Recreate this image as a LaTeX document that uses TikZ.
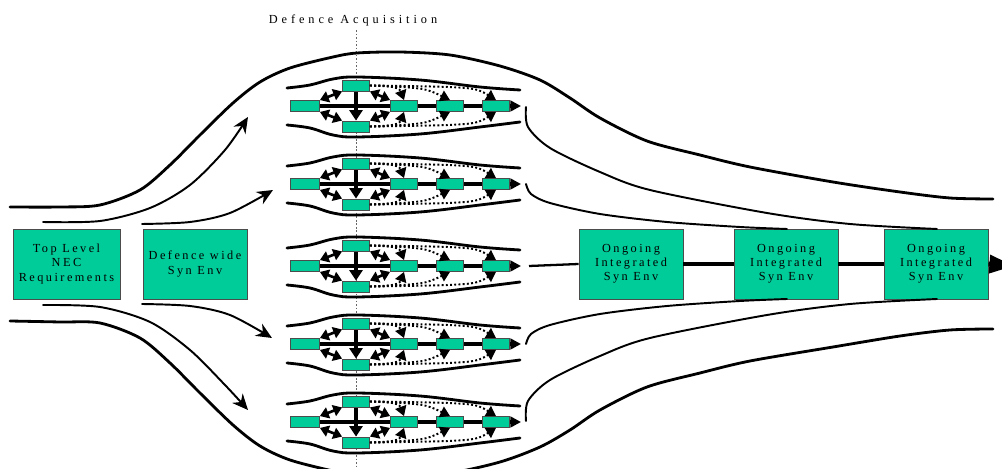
\documentclass[tikz,border=0pt]{standalone}
\usepackage{fontspec}
\setmainfont{Liberation Serif}
\newfontfamily\spc[LetterSpace=20]{Liberation Serif}
\newfontfamily\spct[LetterSpace=32]{Liberation Serif}
\usetikzlibrary{arrows.meta}
\pgfdeclarelayer{bg}
\pgfsetlayers{bg,main}
\definecolor{boxgreen}{RGB}{0,204,153}
\begin{document}
\begin{tikzpicture}[x=0.02cm,y=-0.02cm,
  box/.style={draw=black!70, fill=boxgreen, line width=0.5pt, inner sep=0pt},
  sbox/.style={box, minimum width=0.54cm, minimum height=0.22cm},
  bigbox/.style={box, minimum width=2.08cm, minimum height=1.4cm, align=center,
     font=\spc\fontsize{7}{8}\selectfont},
  env/.style={line width=1.6pt, line cap=round},
  flow/.style={line width=1.1pt, line cap=round},
  mainln/.style={line width=2.2pt},
  dots/.style={line width=1.1pt, dash pattern=on 1.1pt off 1.3pt},
  tri/.style={-{Triangle[length=5.5pt,width=6.5pt]}},
  dtri/.style={{Triangle[length=5pt,width=6.5pt]}-{Triangle[length=5pt,width=6.5pt]}}
]
\clip (0,0) rectangle (1002,469);

% title and dotted guide line
\node[font=\spct\fontsize{7}{8}\selectfont] (title) at (353,20) {Defence Acquisition};
\coordinate (vt) at (356,30);
\coordinate (vb) at (356,469);
\begin{pgfonlayer}{bg}
\draw[black!60, line width=0.4pt, dash pattern=on 1pt off 1pt] (vt) -- (vb);
\end{pgfonlayer}

% left boxes
\node[bigbox, minimum width=2.14cm] (nec) at (66.5,264) {Top Level\\NEC\\Requirements};
\node[bigbox] (dw) at (195,264) {Defence wide\\Syn Env};

% ongoing boxes
\node[bigbox] (oa) at (631,264) {Ongoing\\Integrated\\Syn Env};
\node[bigbox] (ob) at (786,264) {Ongoing\\Integrated\\Syn Env};
\node[bigbox] (oc) at (936,264) {Ongoing\\Integrated\\Syn Env};

% modules
\foreach \yy [count=\i] in {106,184,266,344,422}{
\begin{scope}[shift={(0,\yy)}]
  \node[sbox, minimum width=0.58cm] (L\i) at (305,0) {};
  \node[sbox] (T\i) at (356,-20.5) {};
  \node[sbox] (B\i) at (356,20.5) {};
  \node[sbox] (P\i) at (404,0) {};
  \node[sbox] (Q\i) at (450,0) {};
  \node[sbox] (R\i) at (496,0) {};
  \coordinate (E\i) at (521,0);
  \begin{pgfonlayer}{bg}
    \draw[mainln, -{Triangle[length=6pt,width=6pt]}] (L\i.east) -- (E\i);
    \draw[line width=2pt, -{Triangle[length=6pt,width=7.5pt]}] (T\i.south) -- (B\i.north);
    \draw[line width=1.5pt, dtri] (L\i.north east) -- (T\i.south west);
    \draw[line width=1.5pt, dtri] (L\i.south east) -- (B\i.north west);
    \draw[line width=1.5pt, dtri] (T\i.south east) -- (P\i.north west);
    \draw[line width=1.5pt, dtri] (B\i.north east) -- (P\i.south west);
  \end{pgfonlayer}
  \draw[dots, tri] (T\i.east) to[out=0,in=110] (P\i.north);
  \draw[dots, tri] (T\i.east) .. controls (425,-18) .. (Q\i.north);
  \draw[dots, tri] (T\i.east) .. controls (475,-19) .. (R\i.north);
  \draw[dots, tri] (B\i.east) to[out=0,in=-110] (P\i.south);
  \draw[dots, tri] (B\i.east) .. controls (425,18) .. (Q\i.south);
  \draw[dots, tri] (B\i.east) .. controls (475,19) .. (R\i.south);
  \draw[env] plot[smooth, tension=0.6] coordinates {(287,-18) (310,-21) (333,-27) (357,-29) (420,-26) (480,-19) (520,-16)};
  \draw[env] plot[smooth, tension=0.6] coordinates {(287,19) (310,22) (333,29) (357,31) (420,28) (480,21) (520,16)};
\end{scope}
}

% outer envelope
\draw[env] plot[smooth, tension=0.5] coordinates {(10,207) (60,207) (100,205) (140,190) (170,165) (200,135) (233,103) (260,82) (290,68) (333,57) (357,53) (400,52) (450,55) (500,66) (540,80) (570,98) (600,118) (647,141) (700,155) (750,167) (833,182) (900,192) (950,198) (993,199)};
\draw[env] plot[smooth, tension=0.5] coordinates {(10,321) (60,322) (100,323) (140,338) (170,363) (200,393) (233,425) (260,446) (290,460) (333,471) (357,475) (400,476) (450,473) (500,462) (540,447) (570,430) (600,410) (647,387) (700,373) (750,361) (833,347) (900,336) (950,330) (993,329)};

% flow arrows from the left
\draw[flow, -{Stealth[length=9pt,width=8pt]}] plot[smooth] coordinates {(43,222) (100,221) (150,208) (190,185) (225,150) (248,117)};
\draw[flow, -{Stealth[length=9pt,width=8pt]}] plot[smooth] coordinates {(142,224) (190,222) (230,213) (273,190)};
\draw[flow, -{Stealth[length=9pt,width=8pt]}] plot[smooth] coordinates {(142,304) (190,306) (230,315) (272,338)};
\draw[flow, -{Stealth[length=9pt,width=8pt]}] plot[smooth] coordinates {(43,305) (100,307) (150,322) (190,350) (225,385) (248,410)};

% right converging curves
\draw[flow] plot[smooth] coordinates {(526,107) (528,127) (550,148) (600,172) (650,190) (767,213) (850,224) (937,229)};
\draw[flow] plot[smooth] coordinates {(526,184) (531,194) (550,203) (600,214) (667,222) (740,227) (787,229)};
\draw[flow] plot[smooth] coordinates {(526,344) (531,334) (550,325) (600,314) (667,306) (740,301) (787,299)};
\draw[flow] plot[smooth] coordinates {(526,421) (528,401) (550,380) (600,356) (650,338) (767,315) (850,304) (937,299)};

% ongoing chain
\coordinate (g3) at (529,266);
\coordinate (endc) at (1014,266);
\draw[line width=1.3pt] (g3) -- (oa.west);
\draw[line width=2.2pt] (oa.east) -- (ob.west);
\draw[line width=2.8pt] (ob.east) -- (oc.west);
\draw[line width=2.8pt, -{Triangle[length=14pt,width=10pt]}] (oc.east) -- (endc);
\end{tikzpicture}
\end{document}
